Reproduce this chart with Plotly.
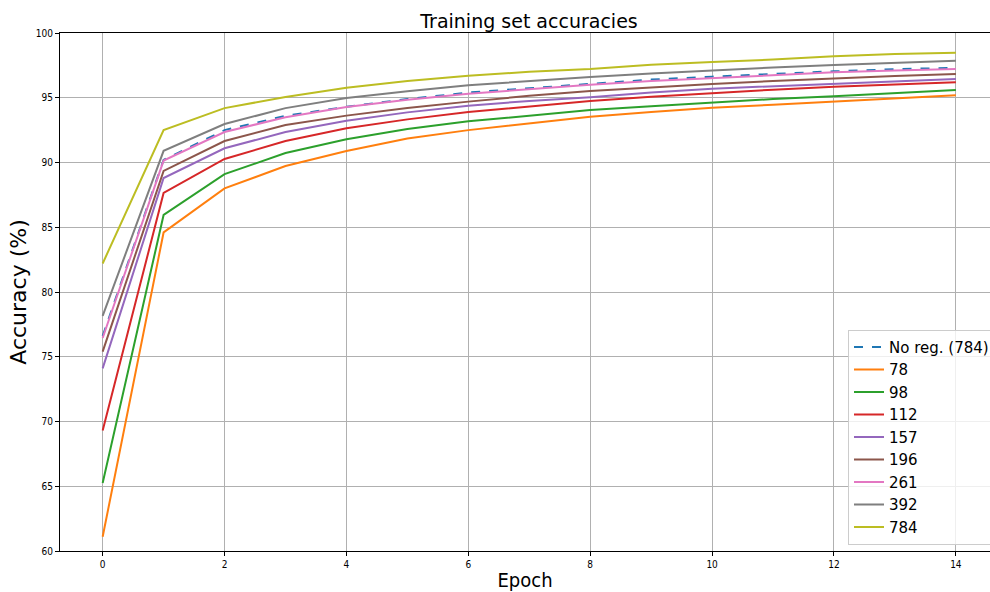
import plotly.graph_objects as go

epochs = list(range(15))

acc_noreg = [76.6, 90.2, 92.5, 93.6, 94.3, 94.9, 95.4, 95.75, 96.1, 96.4, 96.63, 96.85, 97.04, 97.2, 97.32]
acc_78 = [61.1, 84.6, 88.0, 89.73, 90.89, 91.85, 92.5, 93.0, 93.54, 93.9, 94.23, 94.46, 94.7, 94.98, 95.19]
acc_98 = [65.25, 85.95, 89.1, 90.73, 91.79, 92.58, 93.18, 93.62, 94.05, 94.35, 94.65, 94.9, 95.11, 95.38, 95.6]
acc_112 = [69.3, 87.65, 90.27, 91.66, 92.64, 93.33, 93.9, 94.35, 94.75, 95.08, 95.37, 95.62, 95.85, 96.03, 96.19]
acc_157 = [74.1, 88.8, 91.1, 92.35, 93.23, 93.87, 94.39, 94.75, 95.03, 95.4, 95.7, 95.9, 96.09, 96.28, 96.45]
acc_196 = [75.4, 89.35, 91.66, 92.9, 93.62, 94.2, 94.7, 95.15, 95.52, 95.8, 96.06, 96.3, 96.5, 96.67, 96.83]
acc_261 = [76.45, 90.15, 92.35, 93.5, 94.28, 94.85, 95.31, 95.68, 96.0, 96.3, 96.53, 96.76, 96.96, 97.1, 97.22]
acc_392 = [78.15, 90.9, 92.97, 94.2, 94.98, 95.5, 95.96, 96.3, 96.6, 96.88, 97.12, 97.33, 97.53, 97.7, 97.86]
acc_784 = [82.2, 92.5, 94.2, 95.06, 95.78, 96.3, 96.7, 97.0, 97.22, 97.55, 97.76, 97.95, 98.2, 98.38, 98.48]

series_names = ["No reg. (784)", "78", "98", "112", "157", "196", "261", "392", "784"]
series_values = [acc_noreg, acc_78, acc_98, acc_112, acc_157, acc_196, acc_261, acc_392, acc_784]
colors = ["#1f77b4", "#ff7f0e", "#2ca02c", "#d62728", "#9467bd", "#8c564b", "#e377c2", "#7f7f7f", "#bcbd22"]

fig = go.Figure()
for name, vals, col in zip(series_names, series_values, colors):
    fig.add_trace(go.Scatter(
        x=epochs, y=vals, mode="lines", name=name,
        line=dict(color=col, width=2, dash="dash" if name.startswith("No reg") else "solid"),
    ))

FONT = "DejaVu Sans Condensed, DejaVu Sans"

fig.update_layout(
    width=990, height=592,
    margin=dict(l=60, r=0, t=33, b=41, autoexpand=False),
    paper_bgcolor="white", plot_bgcolor="white",
    font=dict(family=FONT, color="black"),
    title=dict(text="Training set accuracies", x=529 / 990, xanchor="center",
               y=1 - 21 / 592, yanchor="middle",
               font=dict(family="DejaVu Sans", size=19, color="black")),
    showlegend=True,
    legend=dict(x=(848 - 60) / 930, y=0.012, xanchor="left", yanchor="bottom",
                bgcolor="rgba(255,255,255,0.8)", bordercolor="#cccccc", borderwidth=1,
                font=dict(family="DejaVu Sans", size=15, color="black"), tracegroupgap=0),
)
fig.update_xaxes(
    range=[-0.7, 14.56], tickmode="array", tickvals=list(range(0, 15, 2)),
    showgrid=True, gridcolor="#b0b0b0", gridwidth=1, zeroline=False,
    showline=True, linecolor="black", linewidth=1, mirror=True,
    ticks="outside", ticklen=4, tickcolor="black", tickfont=dict(size=10),
    automargin=False,
    title=dict(text="Epoch", font=dict(size=20)),
)
fig.update_yaxes(
    range=[60, 100], tickmode="array", tickvals=list(range(60, 101, 5)),
    showgrid=True, gridcolor="#b0b0b0", gridwidth=1, zeroline=False,
    showline=True, linecolor="black", linewidth=1,
    ticks="outside", ticklen=4, tickcolor="black", tickfont=dict(size=10),
    automargin=False,
    title=dict(text="Accuracy (%)", font=dict(family="DejaVu Sans", size=22), standoff=3),
)

fig.write_html("out.html")
